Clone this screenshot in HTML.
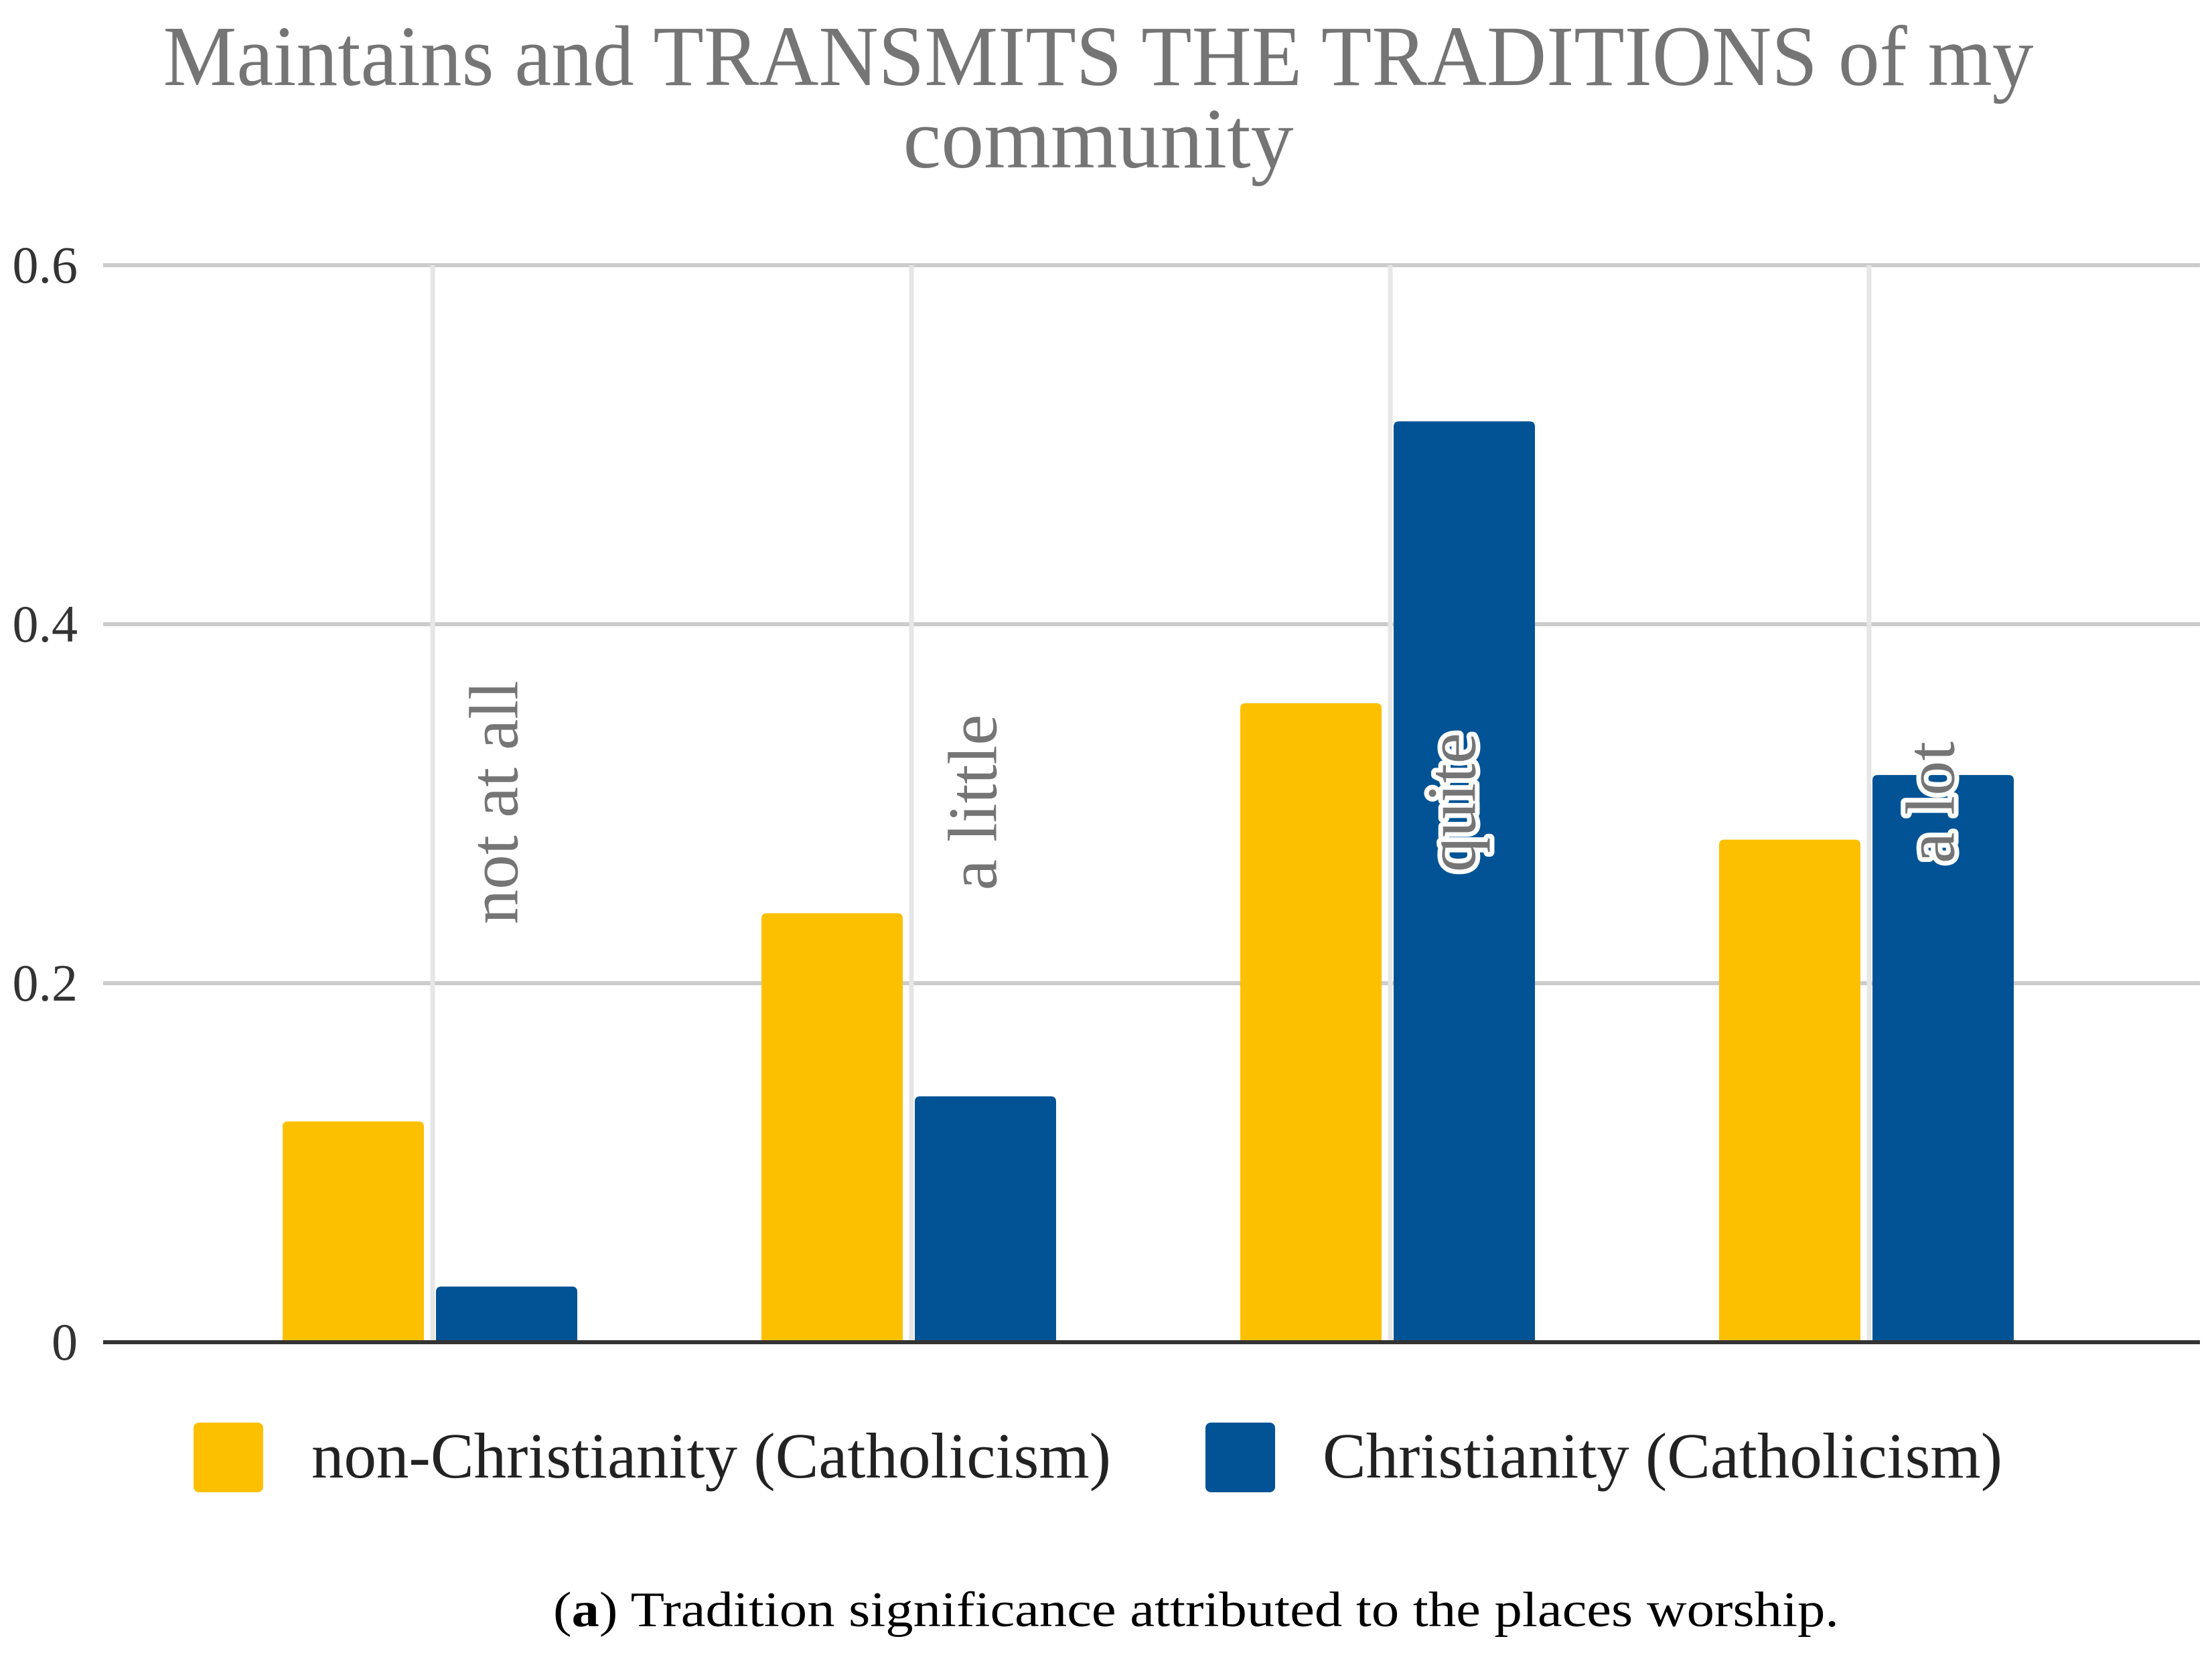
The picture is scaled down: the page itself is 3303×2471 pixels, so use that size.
<!DOCTYPE html>
<html><head><meta charset="utf-8">
<style>
html,body{margin:0;padding:0;background:#fff;}
svg{display:block;}
text{font-family:"Liberation Serif",serif;}
</style></head>
<body>
<svg id="chart" width="3303" height="2471" viewBox="0 0 3303 2471" xmlns="http://www.w3.org/2000/svg">
  <rect x="0" y="0" width="3303" height="2471" fill="#fff"/>
  <g fill="#757575" font-size="128" text-anchor="middle">
    <text x="1640" y="127" textLength="2793" lengthAdjust="spacingAndGlyphs">Maintains and TRANSMITS THE TRADITIONS of my</text>
    <text x="1640" y="250">community</text>
  </g>
  <g id="grid"></g>
  <g id="ticks"></g>
  <g id="bars"></g>
  <g id="labels"></g>
  <line x1="154" y1="2004" x2="3285" y2="2004" stroke="#333" stroke-width="6"/>
  <g>
    <g>
      <rect x="289" y="2124" width="104" height="104" rx="8" fill="#FCC000"/>
      <text x="465" y="2206" font-size="96" fill="#222" textLength="1194" lengthAdjust="spacingAndGlyphs">non-Christianity (Catholicism)</text>
    </g>
    <g>
      <rect x="1800" y="2124" width="104" height="104" rx="8" fill="#025395"/>
      <text x="1975" y="2206" font-size="96" fill="#222" textLength="1015" lengthAdjust="spacingAndGlyphs">Christianity (Catholicism)</text>
    </g>
  </g>
  <text x="826" y="2428" font-size="74" fill="#000" textLength="1920" lengthAdjust="spacingAndGlyphs">(<tspan font-weight="bold">a</tspan>) Tradition significance attributed to the places worship.</text>
</svg>
<script>
const categories = ["not at all", "a little", "quite", "a lot"];
const nonChristianity = [0.123, 0.239, 0.356, 0.280];
const christianity = [0.031, 0.137, 0.513, 0.316];
const yTicks = [0, 0.2, 0.4, 0.6];
const yTickLabels = ["0", "0.2", "0.4", "0.6"];

const NS = "http://www.w3.org/2000/svg";
const y0 = 2004, pxPerUnit = 2680;
function yScale(v){ return y0 - v * pxPerUnit; }
function xCenter(i){ return 646 + i * 715; }
function mk(tag, attrs){ const e = document.createElementNS(NS, tag); for (const k in attrs) e.setAttribute(k, attrs[k]); return e; }

const grid = document.getElementById('grid');
const ticks = document.getElementById('ticks');
yTicks.forEach((t, i) => {
  if (t !== 0) {
    const l = mk('line', {x1:154, x2:3285, y1:yScale(t), y2:yScale(t), stroke:'#cccccc', 'stroke-width':6});
    
    
    grid.appendChild(l);
  }
  const tx = mk('text', {x:116, y:yScale(t) + 26, 'text-anchor':'end', 'font-size':78, fill:'#333'});
  tx.textContent = yTickLabels[i];
  
  
  ticks.appendChild(tx);
});
categories.forEach((c, i) => {
  const l = mk('line', {x1:xCenter(i), x2:xCenter(i), y1:yScale(0.6), y2:y0, stroke:'#e6e6e6', 'stroke-width':7});
  
  
  grid.appendChild(l);
});

const bars = document.getElementById('bars');
function barPath(x, w, v){
  const top = yScale(v), r = 8;
  return `M${x},${y0} L${x},${top + r} Q${x},${top} ${x + r},${top} L${x + w - r},${top} Q${x + w},${top} ${x + w},${top + r} L${x + w},${y0} Z`;
}
categories.forEach((c, i) => {
  const cx = xCenter(i);
  const b1 = mk('path', {d: barPath(cx - 224, 211, nonChristianity[i]), fill:'#FCC000'});
  
  
  bars.appendChild(b1);
  const b2 = mk('path', {d: barPath(cx + 5, 211, christianity[i]), fill:'#025395'});
  
  
  bars.appendChild(b2);
});

const labels = document.getElementById('labels');
categories.forEach((c, i) => {
  const x = xCenter(i) + 92, y = 1198;
  const t = mk('text', {x:x, y:y, transform:`rotate(-90 ${x} ${y})`, 'text-anchor':'middle', 'dominant-baseline':'central', 'font-size':104, fill:'#757575', stroke:'#fff', 'stroke-width':14, 'paint-order':'stroke', 'stroke-linejoin':'round'});
  t.textContent = c;
  
  
  labels.appendChild(t);
});
</script>
</body></html>
